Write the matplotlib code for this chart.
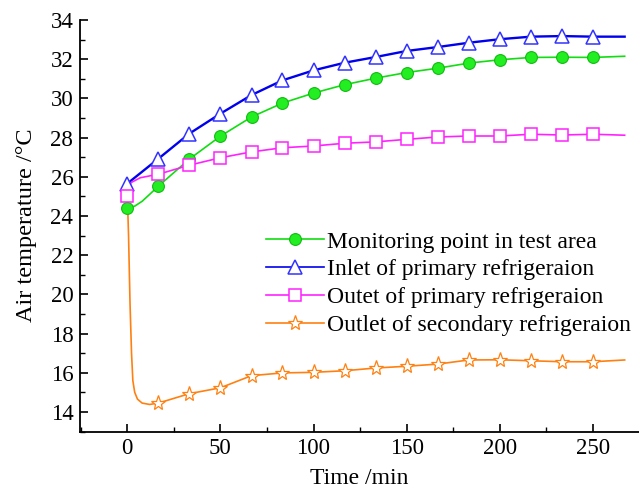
import matplotlib
matplotlib.use("Agg")
import matplotlib.pyplot as plt
from matplotlib.lines import Line2D
from matplotlib.ticker import MultipleLocator

plt.rcParams['font.family'] = ['Liberation Serif', 'DejaVu Serif']

# marker times (min)
t_marks = [0, 16.7, 33.3, 50, 66.7, 83.3, 100, 116.7, 133.3, 150, 166.7, 183.3, 200, 216.7, 233.3, 250]

# Monitoring point in test area
green_marks = [24.42, 25.52, 26.9, 28.07, 29.05, 29.76, 30.27, 30.7, 31.03, 31.32, 31.54, 31.8, 31.97, 32.09, 32.1, 32.09]
green_t_extra = [4, 8, 12, 267]
green_v_extra = [24.5, 24.75, 25.1, 32.15]

# Inlet of primary refrigeraion
blue_marks = [25.65, 26.92, 28.2, 29.22, 30.17, 30.92, 31.43, 31.82, 32.11, 32.42, 32.62, 32.84, 33.02, 33.15, 33.18, 33.15]
blue_t_extra = [267]
blue_v_extra = [33.15]

# Outet of primary refrigeraion
mag_marks = [25.02, 26.13, 26.59, 26.97, 27.27, 27.48, 27.57, 27.71, 27.78, 27.91, 28.03, 28.08, 28.08, 28.17, 28.13, 28.17]
mag_t_extra = [2, 7, 267]
mag_v_extra = [25.7, 25.95, 28.12]

# Outlet of secondary refrigeraion (markers start at 16.7)
orange_t_marks = t_marks[1:]
orange_marks = [14.45, 14.93, 15.23, 15.85, 15.99, 16.02, 16.1, 16.24, 16.33, 16.44, 16.65, 16.66, 16.61, 16.56, 16.56]
orange_t_extra = [0, 0.7, 1.5, 2.3, 3, 4, 5.5, 8, 12, 267]
orange_v_extra = [25.2, 23.0, 19.5, 17.0, 15.6, 15.0, 14.65, 14.45, 14.38, 16.65]

labels = ["Monitoring point in test area", "Inlet of primary refrigeraion",
          "Outet of primary refrigeraion", "Outlet of secondary refrigeraion"]


def merge(t1, v1, t2, v2):
    pts = sorted(zip(list(t1) + list(t2), list(v1) + list(v2)))
    return [p[0] for p in pts], [p[1] for p in pts]


fig = plt.figure(figsize=(6.39, 4.94), dpi=100)
ax = fig.add_axes([80.3 / 639, 1 - 431.5 / 494, 1 - 80.3 / 639, (431.5 - 20) / 494])

c_green = '#11dd11'
c_blue = '#0000ee'
c_mag = '#ff22ff'
c_orange = '#ff8010'

series = [
    (t_marks, green_marks, green_t_extra, green_v_extra, c_green,
     dict(marker='o', markersize=8.5, markerfacecolor='#22ee22', markeredgecolor='#11bb11', markeredgewidth=0.8), 1.2),
    (t_marks, blue_marks, blue_t_extra, blue_v_extra, c_blue,
     dict(marker='^', markersize=10, markerfacecolor='white', markeredgecolor='#3333ff', markeredgewidth=1.1), 1.7),
    (t_marks, mag_marks, mag_t_extra, mag_v_extra, c_mag,
     dict(marker='s', markersize=8, markerfacecolor='white', markeredgecolor=c_mag, markeredgewidth=1.1), 1.2),
    (orange_t_marks, orange_marks, orange_t_extra, orange_v_extra, c_orange,
     dict(marker='*', markersize=11, markerfacecolor='white', markeredgecolor=c_orange, markeredgewidth=0.9), 1.2),
]

handles = []
for tm, vm, te, ve, col, mk, lw in series:
    tl, vl = merge(tm, vm, te, ve)
    ax.plot(tl, vl, color=col, lw=lw, zorder=2)
    ax.plot(tm, vm, ls='none', zorder=3, **mk)
    handles.append(Line2D([], [], color=col, lw=1.2, **mk))

ax.set_xlim(-25.2, 274.7)
ax.set_ylim(13, 34)
ax.xaxis.set_major_locator(MultipleLocator(50))
ax.xaxis.set_minor_locator(MultipleLocator(25))
ax.yaxis.set_major_locator(MultipleLocator(2))
ax.yaxis.set_minor_locator(MultipleLocator(1))
ax.set_yticks([14, 16, 18, 20, 22, 24, 26, 28, 30, 32, 34])

for s in ['top', 'right']:
    ax.spines[s].set_visible(False)
for s in ['left', 'bottom']:
    ax.spines[s].set_linewidth(1.3)

ax.tick_params(which='major', direction='in', length=6, width=1.2, labelsize=16.5, pad=5)
ax.tick_params(which='minor', direction='in', length=3.5, width=1.0)

ax.set_xlabel("Time /min", fontsize=17, labelpad=6)
ax.set_ylabel("Air temperature /°C", fontsize=17.5, labelpad=10)

leg = fig.legend(handles, labels, loc='upper left',
                 bbox_to_anchor=(266 / 639, 1 - 231 / 494), bbox_transform=fig.transFigure,
                 frameon=False, fontsize=17, borderpad=0, borderaxespad=0,
                 handlelength=2.45, handletextpad=0.15, labelspacing=0.27)

fig.savefig("out.png", dpi=100)
